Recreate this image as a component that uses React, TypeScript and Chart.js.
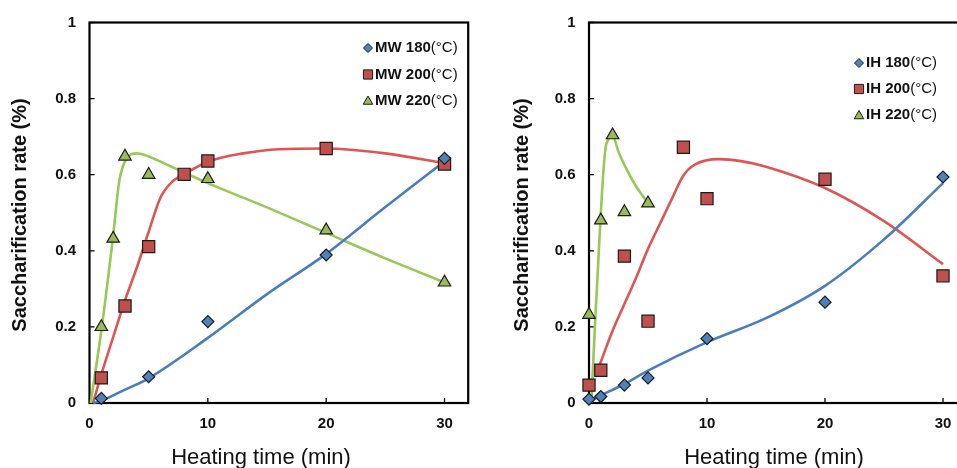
import React, { useEffect, useRef } from 'react';
import { Chart, registerables } from 'chart.js';

Chart.register(...registerables);

// ---------- tick values ----------
const xTickValues = [0, 10, 20, 30];
const yTickValues = [0, 0.2, 0.4, 0.6, 0.8, 1];

// ---------- MW (left) measured points ----------
const mwTime180 = [1, 5, 10, 20, 30];
const mwRate180 = [0.012, 0.069, 0.214, 0.389, 0.643];
const mwTime200 = [1, 3, 5, 8, 10, 20, 30];
const mwRate200 = [0.066, 0.255, 0.411, 0.601, 0.636, 0.669, 0.628];
const mwTime220 = [1, 2, 3, 5, 10, 20, 30];
const mwRate220 = [0.2, 0.432, 0.648, 0.6, 0.589, 0.454, 0.317];

// ---------- MW fitted curves ----------
const mwFitTime180 = [0.3, 1, 3, 5, 10, 15, 20, 25, 30];
const mwFitRate180 = [0, 0.006, 0.035, 0.065, 0.171, 0.286, 0.392, 0.515, 0.635];
const mwFitTime200 = [0.3, 1, 2, 3, 4, 5, 6, 7, 8, 10, 13, 16, 20, 25, 30];
const mwFitRate200 = [0, 0.075, 0.173, 0.27, 0.356, 0.45, 0.54, 0.582, 0.601, 0.634, 0.656, 0.667, 0.669, 0.656, 0.63];
const mwFitTime220 = [0.1, 1, 2, 2.5, 3, 4, 5, 7, 10, 15, 20, 25, 30];
const mwFitRate220 = [0, 0.19, 0.44, 0.58, 0.635, 0.656, 0.648, 0.62, 0.578, 0.514, 0.447, 0.38, 0.317];

// ---------- IH (right) measured points ----------
const ihTime180 = [0, 1, 3, 5, 10, 20, 30];
const ihRate180 = [0.01, 0.017, 0.047, 0.066, 0.169, 0.265, 0.594];
const ihTime200 = [0, 1, 3, 5, 8, 10, 20, 30];
const ihRate200 = [0.047, 0.086, 0.386, 0.215, 0.672, 0.537, 0.588, 0.334];
const ihTime220 = [0, 1, 2, 3, 5];
const ihRate220 = [0.232, 0.48, 0.704, 0.502, 0.525];

// ---------- IH fitted curves ----------
const ihFitTime180 = [0, 1, 3, 5, 10, 15, 20, 25, 30];
const ihFitRate180 = [0.005, 0.02, 0.05, 0.085, 0.16, 0.223, 0.308, 0.43, 0.578];
const ihFitTime200 = [0.9, 2, 3, 4, 5, 6, 7, 8, 9, 11, 13, 15, 20, 25, 30];
const ihFitRate200 = [0.1, 0.19, 0.26, 0.33, 0.405, 0.47, 0.535, 0.598, 0.627, 0.641, 0.635, 0.621, 0.565, 0.478, 0.365];
const ihFitTime220 = [0.2, 0.5, 0.9, 1.2, 1.4, 1.6, 2, 2.5, 3, 4, 5];
const ihFitRate220 = [0, 0.2, 0.44, 0.6, 0.67, 0.69, 0.703, 0.66, 0.626, 0.569, 0.526];

// ---------- labels ----------
const mwLabels = ['MW 180', 'MW 200', 'MW 220'];
const ihLabels = ['IH 180', 'IH 200', 'IH 220'];
const unitSuffix = '(°C)';
const xTitle = 'Heating time (min)';
const yTitle = 'Saccharification rate (%)';

const FONT = '"Liberation Sans", Arial, Helvetica, sans-serif';
const FILLS = ['#4F81BD', '#C0504D', '#9BBB59'];
const LINES = ['#4A7EBB', '#DE5553', '#97C957'];
const STYLES = ['rectRot', 'rect', 'triangle'];
const RADII = [6, 8.6, 7.2];
const MARKER_BORDER = '#1b1b1b';

const zip = (xs: number[], ys: number[]) => xs.map((x, i) => ({ x, y: ys[i] }));

function drawMarker(ctx: CanvasRenderingContext2D, style: string, x: number, y: number, r: number) {
  ctx.beginPath();
  if (style === 'rectRot') {
    ctx.moveTo(x - r, y); ctx.lineTo(x, y - r); ctx.lineTo(x + r, y); ctx.lineTo(x, y + r);
  } else if (style === 'rect') {
    const s = r * Math.SQRT1_2;
    ctx.rect(x - s, y - s, 2 * s, 2 * s);
  } else {
    const h = Math.sin(Math.PI / 3) * r;
    ctx.moveTo(x, y - r); ctx.lineTo(x + h, y + r / 2); ctx.lineTo(x - h, y + r / 2);
  }
  ctx.closePath();
  ctx.fill();
  ctx.stroke();
}

const decorPlugin = {
  id: 'decor',
  beforeDatasetsDraw(chart: any, _args: any, o: any) {
    const { ctx, chartArea: a, scales } = chart;
    ctx.save();
    ctx.strokeStyle = '#000';
    ctx.lineWidth = 1.3;
    ctx.beginPath();
    for (const v of yTickValues) {
      const py = scales.y.getPixelForValue(v);
      ctx.moveTo(a.left, py); ctx.lineTo(a.left + 5, py);
    }
    for (const v of xTickValues) {
      const px = scales.x.getPixelForValue(v);
      ctx.moveTo(px, a.bottom); ctx.lineTo(px, a.bottom - 5);
    }
    ctx.stroke();
    ctx.lineWidth = 2.2;
    ctx.strokeRect(a.left, a.top, a.right - a.left, a.bottom - a.top);
    ctx.restore();
  },
  afterDraw(chart: any, _args: any, o: any) {
    const { ctx } = chart;
    ctx.save();
    ctx.fillStyle = '#111';
    // y title
    ctx.save();
    ctx.translate(o.yTitleX, o.yTitleY);
    ctx.rotate(-Math.PI / 2);
    ctx.font = `bold 20px ${FONT}`;
    ctx.textAlign = 'center';
    ctx.textBaseline = 'middle';
    ctx.fillText(yTitle, 0, 0);
    ctx.restore();
    // x title
    ctx.font = `22px ${FONT}`;
    ctx.textAlign = 'center';
    ctx.textBaseline = 'alphabetic';
    ctx.fillText(xTitle, o.xTitleX, o.xTitleY);
    // legend
    ctx.textAlign = 'left';
    ctx.textBaseline = 'middle';
    o.labels.forEach((lab: string, i: number) => {
      const y = o.legendY[i];
      ctx.fillStyle = FILLS[i];
      ctx.strokeStyle = MARKER_BORDER;
      ctx.lineWidth = 1;
      const lr = [4.5, 6.5, 5.5][i];
      drawMarker(ctx, STYLES[i], o.legendMarkerX, y + (i === 2 ? 1 : 0), lr);
      ctx.fillStyle = '#111';
      ctx.font = `bold 15px ${FONT}`;
      ctx.fillText(lab, o.legendTextX, y);
      const w = ctx.measureText(lab).width;
      ctx.font = `15px ${FONT}`;
      ctx.fillText(unitSuffix, o.legendTextX + w, y);
    });
    ctx.restore();
  },
};

function buildConfig(spec: any) {
  const datasets: any[] = [];
  for (let i = 0; i < 3; i++) {
    datasets.push({
      type: 'scatter',
      data: zip(spec.times[i], spec.rates[i]),
      showLine: false,
      pointStyle: STYLES[i],
      pointRadius: RADII[i],
      pointHoverRadius: RADII[i],
      pointBackgroundColor: FILLS[i],
      pointBorderColor: MARKER_BORDER,
      pointBorderWidth: 1.2,
      clip: false,
      order: 0,
    });
  }
  for (let i = 0; i < 3; i++) {
    datasets.push({
      type: 'scatter',
      data: zip(spec.fitTimes[i], spec.fitRates[i]),
      showLine: true,
      borderColor: LINES[i],
      borderWidth: 2.6,
      pointRadius: 0,
      cubicInterpolationMode: 'monotone',
      fill: false,
      clip: false,
      order: 1,
    });
  }
  return {
    type: 'scatter',
    data: { datasets },
    plugins: [decorPlugin],
    options: {
      animation: false,
      responsive: false,
      events: [],
      layout: { padding: { top: spec.top, right: spec.padRight, left: 0, bottom: 0 } },
      plugins: {
        legend: { display: false },
        tooltip: { enabled: false },
        decor: spec.decor,
      },
      scales: {
        x: {
          type: 'linear',
          min: 0,
          max: spec.xMax,
          grid: { display: false, drawTicks: false },
          border: { display: false },
          afterFit: (s: any) => { s.height = spec.height - spec.bottom; },
          afterBuildTicks: (s: any) => { s.ticks = xTickValues.map((v) => ({ value: v })); },
          ticks: {
            padding: 12,
            color: '#111',
            font: { family: FONT, size: 15, weight: 'bold' },
            callback: (v: any) => String(v),
            maxRotation: 0,
          },
        },
        y: {
          type: 'linear',
          min: 0,
          max: 1,
          grid: { display: false, drawTicks: false },
          border: { display: false },
          afterFit: (s: any) => { s.width = spec.left; },
          afterBuildTicks: (s: any) => { s.ticks = yTickValues.map((v) => ({ value: v })); },
          ticks: {
            padding: 13.5,
            color: '#111',
            font: { family: FONT, size: 15, weight: 'bold' },
            callback: (v: any) => String(v),
          },
        },
      },
    },
  };
}

const leftSpec = {
  height: 468,
  top: 20,
  bottom: 403,
  left: 89.5,
  padRight: 7.5,
  xMax: 32,
  times: [mwTime180, mwTime200, mwTime220],
  rates: [mwRate180, mwRate200, mwRate220],
  fitTimes: [mwFitTime180, mwFitTime200, mwFitTime220],
  fitRates: [mwFitRate180, mwFitRate200, mwFitRate220],
  decor: {
    yTitleX: 20, yTitleY: 215,
    xTitleX: 261, xTitleY: 464,
    legendMarkerX: 368, legendTextX: 375,
    legendY: [48, 74.5, 100.5],
    labels: mwLabels,
  },
};

const rightSpec = {
  height: 468,
  top: 20,
  bottom: 403,
  left: 111,
  padRight: 11.4,
  xMax: 32,
  times: [ihTime180, ihTime200, ihTime220],
  rates: [ihRate180, ihRate200, ihRate220],
  fitTimes: [ihFitTime180, ihFitTime200, ihFitTime220],
  fitRates: [ihFitRate180, ihFitRate200, ihFitRate220],
  decor: {
    yTitleX: 44, yTitleY: 215,
    xTitleX: 296, xTitleY: 464,
    legendMarkerX: 381, legendTextX: 388,
    legendY: [63, 89, 115],
    labels: ihLabels,
  },
};

function ChartCanvas({ spec, width, left }: { spec: any; width: number; left: number }) {
  const ref = useRef<HTMLCanvasElement | null>(null);
  useEffect(() => {
    if (!ref.current) return;
    const chart = new Chart(ref.current, buildConfig(spec) as any);
    return () => chart.destroy();
  }, [spec]);
  return (
    <canvas
      ref={ref}
      width={width}
      height={468}
      style={{ position: 'absolute', left, top: 0, width, height: 468, display: 'block' }}
    />
  );
}

export default function App() {
  return (
    <div
      style={{
        position: 'absolute',
        left: 0,
        top: 0,
        width: 957,
        height: 468,
        overflow: 'hidden',
        background: '#fff',
      }}
    >
      <ChartCanvas spec={leftSpec} width={478} left={0} />
      <ChartCanvas spec={rightSpec} width={500} left={478} />
    </div>
  );
}
